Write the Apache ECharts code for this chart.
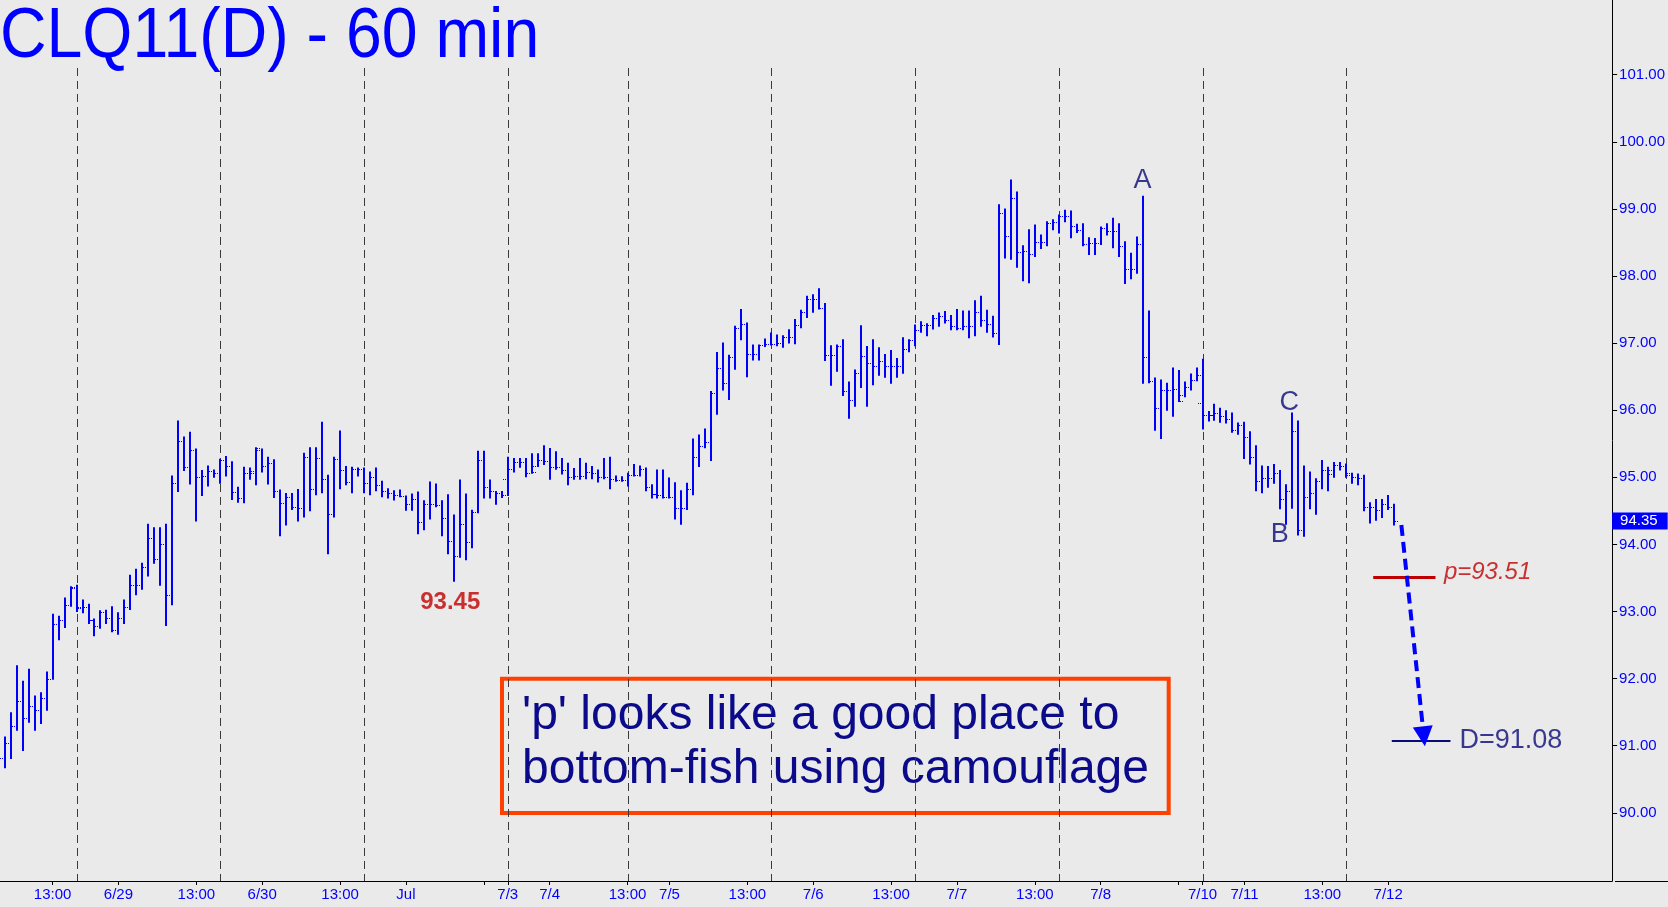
<!DOCTYPE html>
<html>
<head>
<meta charset="utf-8">
<script src="https://cdn.jsdelivr.net/npm/echarts@6.0.0/dist/echarts.min.js"></script>
<style>
html,body{margin:0;padding:0;background:#eaeaea;}
#chart{width:1668px;height:907px;}
</style>
</head>
<body>
<div id="chart"></div>
<script>
// ---- DATA (hourly OHLC bars, CLQ11) ----
const opens = [
90.81,91.04,91.30,91.67,91.42,91.59,91.53,91.71,92.00,92.82,
92.88,93.10,93.37,93.07,93.07,92.87,92.79,93.00,92.91,92.73,
92.90,93.06,93.39,93.39,93.66,94.09,93.79,94.00,93.25,94.92,
95.54,95.16,95.40,95.01,95.02,95.09,95.07,95.26,95.17,94.78,
94.69,95.07,95.10,95.41,95.17,95.22,94.80,94.61,94.71,94.56,
94.55,95.30,94.83,95.29,94.97,94.45,95.27,95.11,94.93,95.13,
95.12,94.92,95.01,94.88,94.80,94.77,94.74,94.72,94.60,94.67,
94.34,94.60,94.60,94.59,94.40,94.05,93.82,94.30,94.03,94.49,
95.26,94.86,94.79,94.76,94.98,95.13,95.23,95.23,95.07,95.17,
95.26,95.25,95.16,95.15,95.11,95.01,95.02,95.02,95.08,95.07,
95.01,95.01,94.98,94.96,94.96,95.03,95.04,95.13,94.86,94.75,
94.74,94.71,94.70,94.55,94.54,94.83,95.31,95.46,95.53,96.26,
96.63,96.40,96.79,97.22,97.29,96.84,96.84,96.97,96.98,96.99,
97.00,97.09,97.09,97.27,97.47,97.66,97.65,97.53,96.82,96.82,
96.95,96.28,96.15,96.56,96.81,96.70,96.66,96.73,96.66,96.66,
96.66,96.91,97.04,97.19,97.27,97.27,97.37,97.41,97.34,97.26,
97.22,97.26,97.26,97.47,97.35,97.29,97.15,98.94,98.59,99.16,
98.36,98.37,98.33,98.50,98.50,98.79,98.81,98.90,98.90,98.75,
98.69,98.47,98.49,98.49,98.71,98.67,98.67,98.45,98.11,98.11,
98.48,96.80,96.43,96.04,96.30,96.30,96.31,96.22,96.35,96.45,
96.10,95.93,95.93,95.96,95.91,95.87,95.70,95.78,95.60,95.31,
94.95,94.99,94.99,95.07,94.68,94.79,95.69,94.21,94.71,94.77,
94.95,95.11,95.05,95.19,95.17,95.04,95.00,94.99,94.56,94.56,
94.51,94.60,94.56
];
const highs = [
91.13,91.49,92.19,91.96,92.14,91.74,91.79,92.10,92.96,92.93,
93.20,93.37,93.39,93.17,93.11,92.89,93.01,93.02,93.07,92.98,
93.17,93.54,93.63,93.72,94.30,94.25,94.25,94.30,95.02,95.84,
95.60,95.67,95.42,95.10,95.17,95.11,95.27,95.31,95.23,94.85,
95.15,95.14,95.44,95.42,95.30,95.26,94.81,94.76,94.76,94.82,
95.36,95.44,95.44,95.82,95.03,95.30,95.69,95.16,95.15,95.14,
95.14,95.08,95.14,94.94,94.83,94.80,94.81,94.72,94.75,94.78,
94.65,94.93,94.90,94.65,94.74,94.44,94.96,94.75,94.51,95.39,
95.39,94.96,94.79,94.79,95.30,95.28,95.28,95.28,95.35,95.35,
95.47,95.43,95.38,95.28,95.21,95.13,95.28,95.21,95.16,95.11,
95.28,95.30,95.02,95.01,95.06,95.19,95.17,95.14,94.89,95.11,
95.11,94.99,94.92,94.80,94.91,95.57,95.63,95.72,96.28,96.86,
97.00,96.82,97.25,97.50,97.30,96.97,96.97,97.06,97.15,97.12,
97.11,97.20,97.35,97.49,97.70,97.72,97.81,97.59,96.96,96.97,
97.05,96.42,96.60,97.26,96.95,97.05,96.93,96.83,96.89,96.77,
97.08,97.05,97.27,97.32,97.29,97.41,97.45,97.47,97.41,97.50,
97.48,97.48,97.63,97.70,97.49,97.40,99.06,99.00,99.43,99.25,
98.45,98.69,98.76,98.61,98.81,98.84,98.91,98.98,98.97,98.77,
98.78,98.57,98.56,98.73,98.78,98.86,98.78,98.51,98.34,98.58,
99.19,97.48,96.48,96.45,96.40,96.63,96.59,96.42,96.54,96.63,
96.76,95.98,96.09,96.03,95.99,95.96,95.81,95.82,95.68,95.47,
95.17,95.16,95.19,95.10,94.89,95.96,95.84,95.17,95.08,94.98,
95.25,95.15,95.22,95.22,95.20,95.06,95.05,95.03,94.62,94.67,
94.67,94.73,94.60
];
const lows = [
90.67,90.81,91.23,90.93,91.35,91.23,91.33,91.53,91.99,92.58,
92.76,93.08,93.00,92.98,92.82,92.64,92.75,92.82,92.70,92.66,
92.82,93.03,93.25,93.33,93.53,93.72,93.39,92.79,93.10,94.79,
95.10,94.90,94.35,94.73,94.87,95.00,94.91,95.02,94.67,94.63,
94.62,94.97,94.89,95.08,94.90,94.70,94.13,94.29,94.52,94.35,
94.41,94.50,94.74,94.77,93.86,94.41,94.83,94.89,94.77,95.02,
94.77,94.74,94.80,94.71,94.69,94.66,94.71,94.51,94.51,94.16,
94.22,94.38,94.56,94.13,93.86,93.45,93.81,93.77,93.95,94.47,
94.69,94.69,94.60,94.70,94.73,95.08,95.15,95.01,95.06,95.16,
95.19,94.97,95.12,95.05,94.89,94.97,94.97,94.98,94.98,94.93,
94.98,94.83,94.94,94.94,94.87,95.02,95.02,94.80,94.69,94.69,
94.69,94.69,94.38,94.30,94.52,94.74,95.16,95.44,95.25,95.94,
96.30,96.16,96.61,97.05,96.50,96.75,96.75,96.95,96.97,96.96,
96.94,97.00,96.99,97.23,97.38,97.46,97.51,96.74,96.37,96.58,
96.22,95.88,96.06,96.34,96.06,96.38,96.52,96.49,96.40,96.49,
96.55,96.87,96.96,97.16,97.11,97.21,97.25,97.30,97.20,97.20,
97.20,97.08,97.11,97.25,97.16,97.09,96.98,98.27,98.25,98.13,
97.93,97.90,98.29,98.41,98.45,98.69,98.64,98.81,98.57,98.65,
98.45,98.32,98.32,98.47,98.61,98.42,98.29,97.89,97.96,98.04,
96.40,96.41,95.70,95.58,96.00,95.91,96.13,96.20,96.30,96.44,
95.72,95.84,95.85,95.82,95.81,95.67,95.64,95.28,95.20,94.80,
94.77,94.85,94.91,94.53,94.30,94.54,94.14,94.12,94.53,94.45,
94.83,94.80,95.00,95.11,95.00,94.91,94.89,94.50,94.32,94.36,
94.40,94.52,94.29
];
const closes = [
91.04,91.30,91.67,91.42,91.59,91.53,91.71,92.00,92.82,92.88,
93.10,93.35,93.05,93.07,92.87,92.79,93.00,92.91,92.73,92.90,
93.06,93.39,93.39,93.66,94.09,93.79,94.00,93.25,94.92,95.54,
95.16,95.40,95.01,95.02,95.09,95.07,95.26,95.17,94.78,94.69,
95.07,95.07,95.43,95.17,95.22,94.80,94.61,94.71,94.56,94.55,
95.30,94.83,95.29,94.97,94.45,95.27,95.11,94.93,95.13,95.12,
94.92,95.01,94.88,94.80,94.77,94.74,94.72,94.60,94.67,94.34,
94.60,94.60,94.59,94.40,94.05,93.82,94.30,94.03,94.49,95.26,
94.86,94.79,94.76,94.74,95.13,95.23,95.23,95.07,95.08,95.26,
95.25,95.16,95.15,95.11,95.01,95.02,95.02,95.08,95.07,95.01,
95.01,94.98,94.96,94.96,95.03,95.04,95.13,94.86,94.75,94.74,
94.71,94.70,94.55,94.54,94.83,95.31,95.46,95.53,96.26,96.63,
96.40,96.79,97.22,97.29,96.84,96.84,96.97,96.98,96.99,97.00,
97.09,97.09,97.27,97.47,97.66,97.65,97.53,96.82,96.82,96.95,
96.28,96.15,96.56,96.81,96.70,96.66,96.73,96.66,96.66,96.66,
96.91,97.04,97.19,97.27,97.27,97.37,97.41,97.34,97.26,97.22,
97.26,97.26,97.47,97.35,97.29,97.15,98.94,98.59,99.16,98.36,
98.37,98.33,98.50,98.50,98.79,98.81,98.90,98.90,98.75,98.69,
98.47,98.49,98.49,98.71,98.67,98.67,98.45,98.11,98.11,98.48,
96.80,96.43,96.04,96.30,96.30,96.31,96.14,96.35,96.45,96.53,
95.93,95.93,95.96,95.91,95.87,95.70,95.78,95.60,95.31,94.95,
94.99,94.99,95.07,94.68,94.79,95.69,94.21,94.71,94.77,94.95,
95.11,95.11,95.19,95.17,95.06,95.00,94.99,94.56,94.56,94.51,
94.60,94.56,94.35
];
// x-axis tick labels (bar index -> label)
const tickIdx  = [8, 19, 32, 43, 56, 67, 84, 91, 104, 111, 124, 135, 148, 159, 172, 183, 200, 207, 220, 231];
const tickText = ['13:00','6/29','13:00','6/30','13:00','Jul','7/3','7/4','13:00','7/5','13:00','7/6','13:00','7/7','13:00','7/8','7/10','7/11','13:00','7/12'];
const minorTicks = [80, 196];
// session separators (bar index)
const dayBreaks = [12, 36, 60, 84, 104, 128, 152, 176, 200, 224];
// y-axis tick values
const yTicks = [90, 91, 92, 93, 94, 95, 96, 97, 98, 99, 100, 101];
const lastPrice = 94.35;
const pLevel = 93.51;
const dLevel = 91.08;
const lowValue = 93.45;

// ---- CHART ----
const Y_MIN = 88.984, Y_MAX = 102.113, X_MIN = -0.778, X_MAX = 268.39;
const GRID_TOP_PRICE = 101.1;
const chart = echarts.init(document.getElementById('chart'), null, {renderer: 'canvas'});
const ohlc = opens.map((o, i) => [i, o, highs[i], lows[i], closes[i]]);
const BLUE = '#0000ff', NAVY = '#0a0a78', RED = '#c00000';
const FONT = '"Liberation Sans", Arial, sans-serif';

function renderBar(params, api) {
  const i = api.value(0);
  const o = api.coord([i, api.value(1)]);
  const h = api.coord([i, api.value(2)]);
  const l = api.coord([i, api.value(3)]);
  const c = api.coord([i, api.value(4)]);
  const x = Math.round(h[0]);
  const yo = Math.round(o[1]) + 0.5, yc = Math.round(c[1]) + 0.5;
  return {
    type: 'group',
    children: [
      {type: 'line', shape: {x1: x, y1: h[1] - 0.5, x2: x, y2: l[1] + 0.5}, style: {stroke: BLUE, lineWidth: 2}},
      {type: 'line', shape: {x1: x - 5, y1: yo, x2: x - 1, y2: yo}, style: {stroke: BLUE, lineWidth: 1, lineDash: [1, 1]}},
      {type: 'line', shape: {x1: x + 1, y1: yc, x2: x + 5, y2: yc}, style: {stroke: BLUE, lineWidth: 1, lineDash: [1, 1]}}
    ]
  };
}

function renderBreak(params, api) {
  const d = api.value(0);
  const t = api.coord([d, GRID_TOP_PRICE]);
  const b = api.coord([d, Y_MIN]);
  const x = Math.round(t[0]) + 0.5;
  return {
    type: 'line',
    shape: {x1: x, y1: t[1], x2: x, y2: b[1]},
    style: {stroke: '#3a3a3a', lineWidth: 1, lineDash: [8, 5]}
  };
}

const option = {
  animation: false,
  backgroundColor: '#eaeaea',
  grid: {left: 0, right: 53, top: 0, bottom: 26, containLabel: false},
  xAxis: {
    type: 'value', min: X_MIN, max: X_MAX,
    axisLine: {onZero: false, lineStyle: {color: '#000', width: 1}},
    axisTick: {show: true, customValues: tickIdx.concat(minorTicks), length: 4, lineStyle: {color: '#000'}},
    axisLabel: {
      customValues: tickIdx,
      formatter: v => tickText[tickIdx.indexOf(Math.round(v))],
      color: BLUE, fontSize: 15, fontFamily: FONT, margin: 6
    },
    splitLine: {show: false}
  },
  yAxis: {
    type: 'value', position: 'right', min: Y_MIN, max: Y_MAX,
    axisLine: {show: true, onZero: false, lineStyle: {color: '#000', width: 1}},
    axisTick: {show: true, customValues: yTicks, length: 5, lineStyle: {color: '#000'}},
    axisLabel: {customValues: yTicks, formatter: v => v.toFixed(2), color: BLUE, fontSize: 15, fontFamily: FONT, margin: 7},
    splitLine: {show: false}
  },
  series: [
    {
      type: 'custom', name: 'sessions', renderItem: renderBreak,
      data: dayBreaks.map(d => [d]), encode: {x: 0}, silent: true, clip: false, z: 1
    },
    {
      type: 'custom', name: 'CLQ11', renderItem: renderBar, data: ohlc,
      encode: {x: 0, y: [1, 2, 3, 4]}, silent: true, clip: true, z: 2,
      markLine: {
        silent: true, animation: false, symbol: ['none', 'none'],
        label: {show: false},
        data: [
          [{coord: [228.5, pLevel], lineStyle: {color: RED, width: 3, type: 'solid'}}, {coord: [238.9, pLevel]}],
          [{coord: [231.6, dLevel], lineStyle: {color: NAVY, width: 2, type: 'solid'}}, {coord: [241.4, dLevel]}]
        ]
      }
    },
    {
      type: 'line', data: [], silent: true,
      markLine: {
        silent: true, animation: false, symbol: ['none', 'triangle'], symbolSize: 20,
        label: {show: false},
        lineStyle: {color: BLUE, width: 4, type: [11, 6]},
        data: [[{coord: [233.2, 94.29]}, {coord: [236.95, 91.14]}]]
      }
    },
    {
      type: 'line', data: [], silent: true,
      markLine: {
        silent: true, animation: false, symbol: ['none', 'none'],
        lineStyle: {color: 'rgba(0,0,0,0)', width: 0},
        label: {
          show: true, position: 'end', distance: 0, formatter: lastPrice.toFixed(2),
          color: '#ffffff', backgroundColor: BLUE, padding: [1, 10, 1, 8],
          fontSize: 15, fontFamily: FONT
        },
        data: [{yAxis: lastPrice}]
      }
    },
    {
      type: 'scatter', silent: true, symbolSize: 1,
      itemStyle: {color: 'rgba(0,0,0,0)'},
      label: {show: true, position: 'inside', fontFamily: FONT},
      data: [
        {value: [190, 99.42], label: {formatter: 'A', color: NAVY, fontSize: 27}},
        {value: [212.9, 94.14], label: {formatter: 'B', color: NAVY, fontSize: 27}},
        {value: [214.5, 96.12], label: {formatter: 'C', color: NAVY, fontSize: 27}},
        {value: [74.4, 93.13], label: {formatter: lowValue.toFixed(2), color: RED, fontSize: 24, fontWeight: 'bold'}},
        {value: [247.6, 93.59], label: {formatter: 'p=' + pLevel.toFixed(2), color: RED, fontSize: 24, fontStyle: 'italic'}},
        {value: [251.5, 91.07], label: {formatter: 'D=' + dLevel.toFixed(2), color: NAVY, fontSize: 27}}
      ]
    }
  ],
  graphic: {
    elements: [
      {
        type: 'text', x: 0, y: 3, scaleX: 0.92, silent: true,
        style: {text: 'CLQ11(D) - 60 min', fill: BLUE, font: '70px ' + FONT,
                textAlign: 'left', align: 'left', textVerticalAlign: 'top', verticalAlign: 'top'}
      },
      {
        type: 'rect', silent: true,
        shape: {x: 502, y: 678.7, width: 666.7, height: 134.3},
        style: {fill: 'none', stroke: '#ff4000', lineWidth: 4}
      },
      {
        type: 'text', x: 522, y: 689, silent: true,
        style: {text: "'p' looks like a good place to\nbottom-fish using camouflage", fill: '#0a0a8a',
                font: '48px ' + FONT, lineHeight: 54,
                textAlign: 'left', align: 'left', textVerticalAlign: 'top', verticalAlign: 'top'}
      },
      {
        type: 'line', silent: true,
        shape: {x1: 1615, y1: 881.5, x2: 1668, y2: 881.5},
        style: {stroke: '#000', lineWidth: 1}
      }
    ]
  }
};
chart.setOption(option);
</script>
</body>
</html>
